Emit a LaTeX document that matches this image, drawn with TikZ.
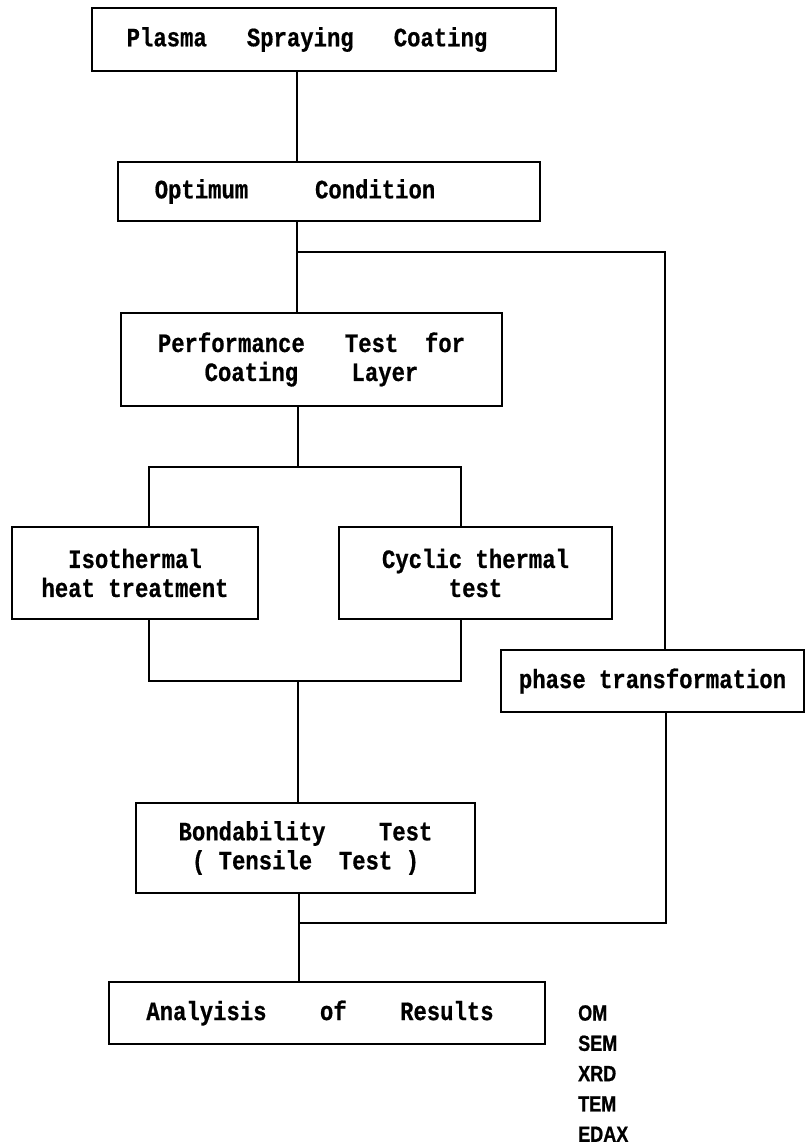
\documentclass[tikz,border=0pt]{standalone}
\usepackage{fontspec}
\newfontfamily\boxfont[FakeStretch=0.84,FakeBold=0.6]{Liberation Mono Bold}
\newfontfamily\labfont[FakeStretch=0.82,FakeBold=0.8]{Liberation Sans Bold}
\begin{document}
\begin{tikzpicture}[x=1pt,y=-1pt,
  box/.style={draw,line width=1.6pt,rectangle,inner sep=0pt,align=center,
    font=\boxfont\fontsize{26.5}{29}\selectfont},
  conn/.style={line width=1.6pt}]
\useasboundingbox (0,0) rectangle (806,1148);
\node[box,minimum width=464pt,minimum height=63pt] (plasma) at (324,39.5)
  {\hspace*{-34pt}Plasma~~~Spraying~~~Coating};
\node[box,minimum width=422pt,minimum height=59pt] (optimum) at (329,191.5)
  {\hspace*{-68pt}Optimum~~~~~Condition};
\node[box,minimum width=381pt,minimum height=93pt] (perf) at (311.5,359.5)
  {Performance~~~Test~~for\\Coating~~~~Layer};
\node[box,minimum width=246pt,minimum height=92pt] (iso) at (135,573)
  {Isothermal\\heat treatment};
\node[box,minimum width=273pt,minimum height=92pt] (cyclic) at (475.5,573)
  {Cyclic thermal\\test};
\node[box,minimum width=303pt,minimum height=62pt] (phase) at (652.5,681)
  {phase transformation};
\node[box,minimum width=339pt,minimum height=90pt] (bond) at (305.5,848)
  {Bondability~~~~Test\\( Tensile~~Test )};
\node[box,minimum width=436pt,minimum height=62pt] (analysis) at (327,1013)
  {\hspace*{-14pt}Analyisis~~~~of~~~~Results};
\node[anchor=north west,inner sep=0pt,align=left,
  font=\labfont\fontsize{22}{30.3}\selectfont] (methods) at (578,1005)
  {OM\\SEM\\XRD\\TEM\\EDAX};
\coordinate (j1) at (297,252);
\coordinate (jr) at (665,252);
\coordinate (s1) at (298,467);
\coordinate (sl) at (149,467);
\coordinate (sr) at (461,467);
\coordinate (m1) at (298,681);
\coordinate (ml) at (149,681);
\coordinate (mr) at (461,681);
\coordinate (j2) at (299,923);
\coordinate (j2r) at (666,923);
\draw[conn] (plasma.south -| j1) -- (optimum.north -| j1);
\draw[conn] (optimum.south -| j1) -- (perf.north -| j1);
\draw[conn] (j1) -- (jr) -- (phase.north -| jr);
\draw[conn] (perf.south -| s1) -- (s1);
\draw[conn] (iso.north -| sl) -- (sl) -- (sr) -- (cyclic.north -| sr);
\draw[conn] (iso.south -| ml) -- (ml) -- (mr) -- (cyclic.south -| mr);
\draw[conn] (m1) -- (bond.north -| m1);
\draw[conn] (bond.south -| j2) -- (analysis.north -| j2);
\draw[conn] (phase.south -| j2r) -- (j2r) -- (j2);
\end{tikzpicture}
\end{document}
